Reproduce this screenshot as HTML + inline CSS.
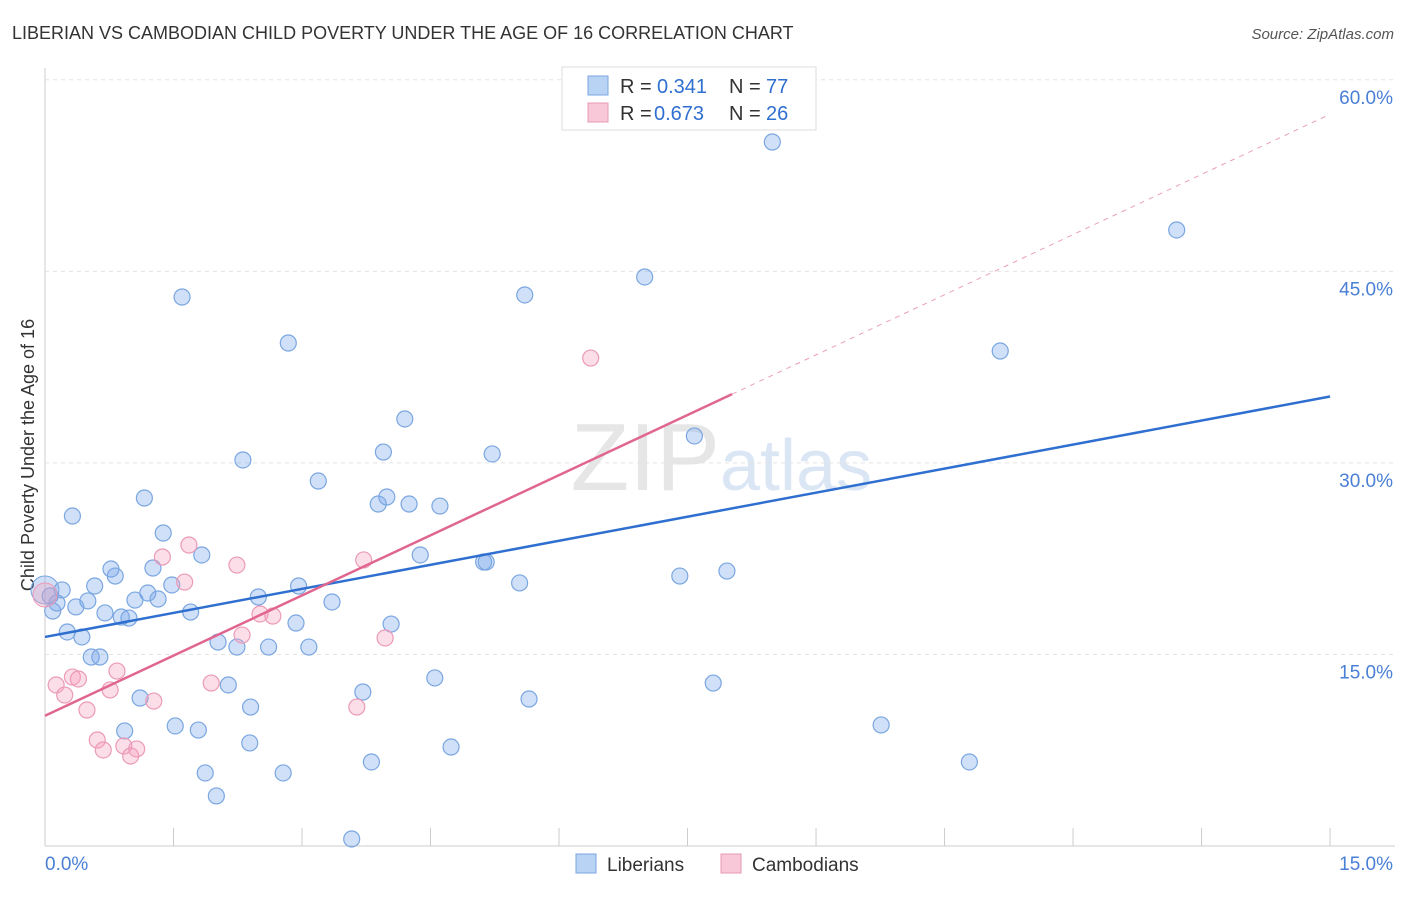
<!DOCTYPE html>
<html><head><meta charset="utf-8"><style>
body{margin:0;background:#fff;font-family:"Liberation Sans",sans-serif}
svg text{font-family:"Liberation Sans",sans-serif}
</style></head><body>
<svg id="c" width="1406" height="892">
<text x="12" y="39" font-size="18" fill="#333">LIBERIAN VS CAMBODIAN CHILD POVERTY UNDER THE AGE OF 16 CORRELATION CHART</text>
<text x="1394" y="39" font-size="15" fill="#555" text-anchor="end" font-style="italic">Source: ZipAtlas.com</text>
<text x="720" y="490" font-size="96" fill="#e6e6e6" text-anchor="end" font-family="Liberation Serif">ZIP</text>
<text x="720" y="490" font-size="72" fill="#dbe6f5">atlas</text>
<text transform="translate(34,455) rotate(-90)" font-size="18" fill="#333" text-anchor="middle">Child Poverty Under the Age of 16</text>
<g id="grid"></g><g id="marks"></g>
<g>
<rect x="562" y="67" width="254" height="63" fill="#fff" stroke="#ddd"/>
<rect x="588" y="76" width="20" height="19" fill="#b9d3f5" stroke="#7aa6e0"/>
<rect x="588" y="103" width="20" height="19" fill="#f9c8d8" stroke="#e79ab5"/>
<text x="620" y="93" font-size="20" fill="#333">R =</text>
<text x="657" y="93" font-size="20" fill="#2f6fd0">0.341</text>
<text x="729" y="93" font-size="20" fill="#333">N =</text>
<text x="766" y="93" font-size="20" fill="#2f6fd0">77</text>
<text x="620" y="120" font-size="20" fill="#333">R =</text>
<text x="654" y="120" font-size="20" fill="#2f6fd0">0.673</text>
<text x="729" y="120" font-size="20" fill="#333">N =</text>
<text x="766" y="120" font-size="20" fill="#2f6fd0">26</text>
</g>
<g>
<rect x="576" y="854" width="20" height="19" fill="#b9d3f5" stroke="#7aa6e0"/>
<text x="607" y="871" font-size="19" fill="#333">Liberians</text>
<rect x="721" y="854" width="20" height="19" fill="#f9c8d8" stroke="#e79ab5"/>
<text x="752" y="871" font-size="19" fill="#333">Cambodians</text>
</g>
</svg>
<script>
const xTicks=[0,1.5,3,4.5,6,7.5,9,10.5,12,13.5,15];
const yTicks=[15,30,45,60];
const yTickLabels=["15.0%","30.0%","45.0%","60.0%"];
const bluePx=[[772,142],[1177,230],[182,297],[645,277],[525,295],[288,343],[1000,351],[405,419],[694,436],[243,460],[383,452],[492,454],[318,481],[144,498],[72,516],[378,504],[387,497],[409,504],[440,506],[163,533],[202,555],[420,555],[484,562],[486,562],[111,569],[115,576],[153,568],[95,586],[172,585],[520,583],[680,576],[727,571],[62,590],[50,596],[57,603],[88,601],[76,607],[135,600],[148,593],[158,599],[258,597],[299,586],[53,611],[105,613],[121,617],[129,618],[191,612],[332,602],[296,623],[391,624],[67,632],[82,637],[218,642],[237,647],[269,647],[309,647],[91,657],[100,657],[435,678],[713,683],[228,685],[140,698],[529,699],[363,692],[251,707],[175,726],[198,730],[125,731],[881,725],[250,743],[451,747],[371,762],[969,762],[205,773],[283,773],[216,796],[352,839]];
const pinkPx=[[591,358],[189,545],[162,557],[364,560],[237,565],[185,582],[260,614],[273,616],[242,635],[385,638],[117,671],[72,677],[78,679],[56,685],[110,690],[211,683],[65,695],[154,701],[87,710],[357,707],[97,740],[124,746],[137,749],[103,750],[131,756]];
const liberiansX=bluePx.map(p=>+((p[0]-45)/85.67).toFixed(2));
const liberiansY=bluePx.map(p=>+((846-p[1])/12.77).toFixed(2));
const cambodiansX=pinkPx.map(p=>+((p[0]-45)/85.67).toFixed(2));
const cambodiansY=pinkPx.map(p=>+((846-p[1])/12.77).toFixed(2));
const blueTrend=[16.37,35.2];
const pinkTrend=[10.2,57.3];
const pinkSolidEnd=8.02;
const X=v=>45+v*85.67, Y=v=>846-v*12.77;
const NS="http://www.w3.org/2000/svg";
const g=document.getElementById('grid'), m=document.getElementById('marks');
function mk(tag,a,p){const e=document.createElementNS(NS,tag);for(const k in a)e.setAttribute(k,a[k]);p.appendChild(e);return e;}
let e;
e=mk('line',{x1:45,y1:68,x2:45,y2:846,stroke:'#ccc'},g);


e=mk('line',{x1:45,y1:846,x2:1395,y2:846,stroke:'#ccc'},g);


yTicks.forEach((t,i)=>{
 e=mk('line',{x1:45,y1:Y(t),x2:1395,y2:Y(t),stroke:'#e3e3e3','stroke-dasharray':'4,4'},g);
 
 
 e=mk('text',{x:1393,y:Y(t)+24,'font-size':19,fill:'#4a7fd6','text-anchor':'end'},g);e.textContent=yTickLabels[i];
 
 
});
xTicks.forEach(t=>{if(t>0){e=mk('line',{x1:X(t),y1:828,x2:X(t),y2:846,stroke:'#ccc'},g);
 
 }});
e=mk('text',{x:45,y:870,'font-size':19,fill:'#4a7fd6'},g);e.textContent='0.0%';


e=mk('text',{x:1393,y:870,'font-size':19,fill:'#4a7fd6','text-anchor':'end'},g);e.textContent='15.0%';


liberiansX.forEach((x,i)=>{e=mk('circle',{cx:X(x),cy:Y(liberiansY[i]),r:8,fill:'rgba(120,165,235,0.35)',stroke:'#7aa6e0','stroke-width':1.2},m);
 
 });
e=mk('circle',{cx:45,cy:590,r:14,fill:'rgba(120,165,235,0.35)',stroke:'#7aa6e0'},m);
cambodiansX.forEach((x,i)=>{e=mk('circle',{cx:X(x),cy:Y(cambodiansY[i]),r:8,fill:'rgba(245,160,190,0.35)',stroke:'#eb9ab8','stroke-width':1.2},m);
 
 });
e=mk('circle',{cx:45,cy:595,r:12,fill:'rgba(245,160,190,0.35)',stroke:'#eb9ab8'},m);
e=mk('line',{x1:X(0),y1:Y(blueTrend[0]),x2:X(15),y2:Y(blueTrend[1]),stroke:'#2f6fd0','stroke-width':2.5},m);


const py=x=>pinkTrend[0]+(pinkTrend[1]-pinkTrend[0])*x/15;
e=mk('line',{x1:X(0),y1:Y(py(0)),x2:X(pinkSolidEnd),y2:Y(py(pinkSolidEnd)),stroke:'#e0668f','stroke-width':2.5},m);


e=mk('line',{x1:X(pinkSolidEnd),y1:Y(py(pinkSolidEnd)),x2:X(15),y2:Y(py(15)),stroke:'#eaa0b8','stroke-width':1,'stroke-dasharray':'5,5'},m);


</script>
</body></html>
